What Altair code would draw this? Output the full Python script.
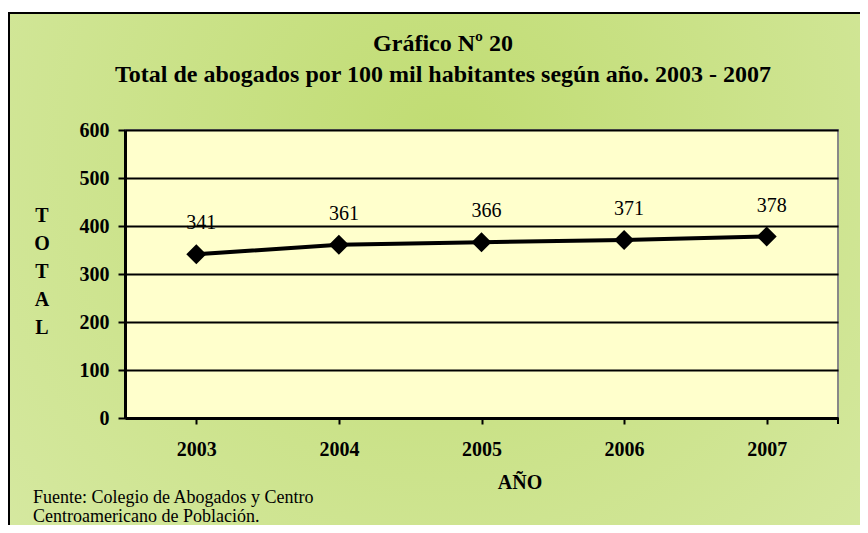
import altair as alt
import pandas as pd

years = ["2003", "2004", "2005", "2006", "2007"]
totals = [341, 361, 366, 371, 378]
y_ticks = [0, 100, 200, 300, 400, 500, 600]
title_lines = ["Gráfico Nº 20", "Total de abogados por 100 mil habitantes según año. 2003 - 2007"]
y_title = ["T", "O", "T", "A", "L"]
x_title = "AÑO"
source_lines = ["Fuente: Colegio de Abogados y Centro", "Centroamericano de Población."]

df = pd.DataFrame({"year": years, "total": totals})

W, H = 713, 288
FONT = "'Liberation Serif', 'Times New Roman', 'DejaVu Serif', serif"
one = alt.Data(values=[{}])

bg = alt.Chart(one).mark_rect(
    fill={
        "gradient": "radial",
        "x1": 0.5, "y1": 0.35, "r1": 0,
        "x2": 0.5, "y2": 0.35, "r2": 0.75,
        "stops": [
            {"offset": 0, "color": "#c0dc72"},
            {"offset": 1, "color": "#d8eaa6"},
        ],
    },
    stroke="black", strokeWidth=2,
).encode(x=alt.value(-116), x2=alt.value(760), y=alt.value(-117), y2=alt.value(420))

plot_bg = alt.Chart(one).mark_rect(
    fill="#ffffcc", stroke="#888888", strokeWidth=2
).encode(x=alt.value(0), x2=alt.value(W), y=alt.value(0), y2=alt.value(H))

x_enc = alt.X(
    "year:N", sort=years, title=None,
    scale=alt.Scale(paddingInner=0, paddingOuter=0),
    axis=alt.Axis(
        labelAngle=0, labelFont=FONT, labelFontSize=20, labelFontWeight="bold",
        labelColor="black", labelPadding=15, labelBaseline="top",
        tickColor="black", tickWidth=2, tickSize=6, bandPosition=0,
        domainColor="black", domainWidth=3, grid=False, zindex=1,
    ),
)
y_enc = alt.Y(
    "total:Q", title=None,
    scale=alt.Scale(domain=[0, 600], nice=False),
    axis=alt.Axis(
        values=y_ticks, labelFont=FONT, labelFontSize=20, labelFontWeight="bold",
        labelColor="black", labelPadding=9, tickColor="black", tickWidth=2,
        tickSize=7, domainColor="black", domainWidth=3,
        grid=True, gridColor="black", gridWidth=2, gridOpacity=1, zindex=1,
    ),
)

base = alt.Chart(df).encode(x=x_enc, y=y_enc)
line = base.mark_line(color="black", strokeWidth=4)
pts = base.mark_point(shape="diamond", size=400, filled=True, color="black", opacity=1)
labels = base.mark_text(font=FONT, fontSize=20, color="black", dx=5, dy=-31,
                        baseline="middle").encode(text="total:Q")

last_tick = alt.Chart(one).mark_rule(color="black", strokeWidth=2).encode(
    x=alt.value(W), y=alt.value(H), y2=alt.value(H + 6))

t1 = alt.Chart(one).mark_text(font=FONT, fontSize=24, fontWeight="bold", color="black",
                              align="center", baseline="alphabetic").encode(
    x=alt.value(318), y=alt.value(-79), text=alt.value(title_lines[0]))
t2 = alt.Chart(one).mark_text(font=FONT, fontSize=24, fontWeight="bold", color="black",
                              align="center", baseline="alphabetic").encode(
    x=alt.value(318), y=alt.value(-48), text=alt.value(title_lines[1]))
yt = alt.Chart(one).mark_text(font=FONT, fontSize=20, fontWeight="bold", color="black",
                              align="center", baseline="alphabetic", lineHeight=28).encode(
    x=alt.value(-83), y=alt.value(92), text=alt.value(y_title))
xt = alt.Chart(one).mark_text(font=FONT, fontSize=20, fontWeight="bold", color="black",
                              align="center", baseline="alphabetic").encode(
    x=alt.value(395), y=alt.value(359), text=alt.value(x_title))
src = alt.Chart(one).mark_text(font=FONT, fontSize=18, color="black",
                               align="left", baseline="alphabetic", lineHeight=19).encode(
    x=alt.value(-92), y=alt.value(373), text=alt.value(source_lines))

chart = alt.layer(bg, plot_bg, line, pts, labels, last_tick, t1, t2, yt, xt, src).properties(
    width=W, height=H,
    autosize=alt.AutoSizeParams(type="none"),
    padding={"left": 117, "top": 122, "right": 22, "bottom": 107},
).configure_view(stroke=None).configure(background="white")

chart.save("out.html", embed_options={"renderer": "svg", "actions": False})
